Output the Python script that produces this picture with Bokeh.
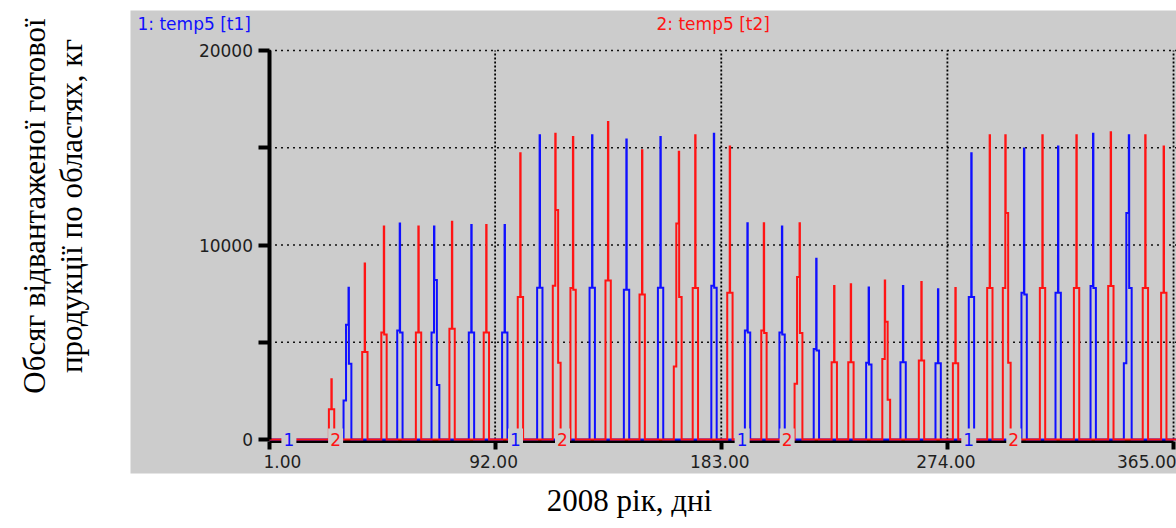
import math
from bokeh.plotting import figure
from bokeh.models import Range1d, FixedTicker, ColumnDataSource
from bokeh.embed import file_html
from bokeh.resources import INLINE
from bokeh.core.properties import value

# ---------------- data ----------------
x_ticks = [1, 92, 183, 274, 365]
x_tick_labels = ["1.00", "92.00", "183.00", "274.00", "365.00"]
y_ticks = [0, 5000, 10000, 15000, 20000]
y_tick_labels = ["0", "", "10000", "", "20000"]

series_names = ["1: temp5 [t1]", "2: temp5 [t2]"]
x_title = "2008 рік, дні"
y_title_lines = ["Обсяг відвантаженої готової", "продукції по областях, кг"]

# day on which each shipment begins, and the daily levels of the shipment (kg)
blue_start_days = [31, 52.6, 66.4, 81.4, 94.8, 108.9, 130, 143.8, 157.5, 179, 192.5,
                   206.4, 220.2, 241.3, 255.1, 269.2, 282.6, 303.8, 317.5, 331.6, 345]
blue_levels = [
    [2000, 5900, 7800, 3900],
    [5600, 11100, 5500],
    [5500, 10950, 8200, 2800],
    [5500, 11030, 5500],
    [5500, 11030, 5500],
    [7800, 15640, 7800],
    [7800, 15640, 7800],
    [7700, 15430, 7700],
    [7800, 15550, 7800],
    [7900, 15720, 7800],
    [5600, 11120, 5500],
    [5500, 10950, 5400],
    [4650, 9290, 4570],
    [3940, 7810, 3860],
    [3970, 7890, 3970],
    [3920, 7720, 3920],
    [7330, 14720, 7330],
    [7540, 14960, 7450],
    [7540, 15060, 7540],
    [7890, 15720, 7790],
    [3920, 11640, 15640, 7790],
]

red_start_days = [25.1, 38.5, 46.2, 60.1, 73.6, 87.4, 101.1, 115.2, 122.3, 136.4, 150.1,
                  163.9, 171.5, 185.4, 199.1, 212.5, 227.4, 234.1, 247.8, 262.5, 276.2,
                  290, 296.3, 311.2, 324.9, 338.7, 352.6, 360]
red_levels = [
    [1550, 3100, 1550],
    [4500, 9050, 4500],
    [5500, 10950, 5400],
    [5500, 10950, 5500],
    [5700, 11200, 5700],
    [5500, 11030, 5500],
    [7330, 14720, 7330],
    [7900, 15720, 11800, 3950],
    [7790, 15550, 7700],
    [8180, 16330, 8180],
    [7450, 14870, 7450],
    [3750, 11100, 14800, 7330],
    [7790, 15640, 7790],
    [7540, 15060, 7540],
    [5600, 11120, 5480],
    [2860, 8350, 11120, 5480],
    [3970, 7890, 3970],
    [3970, 7980, 3970],
    [4140, 8180, 6050, 2050],
    [4060, 8100, 4060],
    [3920, 7790, 3920],
    [7790, 15640, 7790],
    [7790, 15640, 11640, 3950],
    [7790, 15640, 7790],
    [7790, 15640, 7790],
    [7890, 15800, 7890],
    [7790, 15640, 7790],
    [7540, 15060, 7540],
]

# day positions of the series number markers on the time axis
marker1_days = [9, 100.2, 191.4, 282.6]
marker2_days = [27.8, 119.1, 209.5, 300.7]

# ---------------- geometry (page pixels) ----------------
W, H = 1176, 528
PX0, PXD = 268.5, 2.485          # page x of day 1, pixels per day
PY0, PYU = 439.0, 389.0 / 20000  # page y of value 0, pixels per kg


def dx(px):
    return 1 + (px - PX0) / PXD


def vy(py):
    return (PY0 - py) / PYU


X_END = dx(W)

BLUE = "#1010ff"
RED = "#ff1414"
GRAY = "#cccccc"


def step_path(starts, levels, x_end):
    xs, ys = [1], [0]
    for s, lv in zip(starts, levels):
        t = s
        pk = max(lv)
        xs.append(t); ys.append(0)
        for l in lv:
            if l == pk:
                xs += [t, t + 0.15]; ys += [l, l]
                t += 0.15
            else:
                xs += [t, t + 1]; ys += [l, l]
                t += 1
        xs.append(t); ys.append(0)
    xs.append(x_end); ys.append(0)
    return xs, ys


p = figure(width=W, height=H, output_backend="svg", toolbar_location=None,
           x_range=Range1d(dx(0), dx(W)),
           y_range=Range1d(vy(H), vy(0)),
           min_border=0, title=None)
p.outline_line_color = None
p.background_fill_color = "white"
p.border_fill_color = "white"
p.grid.visible = False

# gray chart panel
p.quad(left=[dx(130)], right=[dx(W + 5)], bottom=[vy(473)], top=[vy(10)],
       fill_color=GRAY, line_color=None, level="image")

# grid lines
hg = y_ticks[1:]
p.segment(x0=[1] * len(hg), x1=[X_END] * len(hg), y0=hg, y1=hg,
          line_color="#111111", line_width=1.7, line_dash="2 4", level="underlay")
vg = x_ticks[1:]
p.segment(x0=vg, x1=vg, y0=[0] * len(vg), y1=[y_ticks[-1]] * len(vg),
          line_color="#000000", line_width=1.8, line_dash="2 2", level="underlay")

# y axis
ya = p.yaxis[0]
ya.fixed_location = 1
ya.bounds = (0, 20000)
ya.ticker = FixedTicker(ticks=y_ticks)
ya.major_label_overrides = {t: l for t, l in zip(y_ticks, y_tick_labels)}
ya.axis_line_width = 4
ya.axis_line_color = "black"
ya.major_tick_line_width = 4
ya.major_tick_out = 11
ya.major_tick_in = 0
ya.minor_tick_line_color = None
ya.major_label_standoff = 5
ya.major_label_text_font = "DejaVu Sans"
ya.major_label_text_font_size = "17px"
ya.major_label_text_color = "#1e1e1e"

# x axis
xa = p.xaxis[0]
xa.fixed_location = -2.0 / PYU
xa.bounds = (1, 365)
xa.ticker = FixedTicker(ticks=x_ticks)
xa.major_label_overrides = {t: "" for t in x_ticks}
xa.axis_line_width = 3
xa.axis_line_color = "black"
xa.major_tick_line_width = 4
xa.major_tick_out = 8
xa.major_tick_in = 0
xa.minor_tick_line_color = None
xa.level = "underlay"

# series
bx, by = step_path(blue_start_days, blue_levels, X_END)
rx, ry = step_path(red_start_days, red_levels, X_END)
p.line(bx, by, line_color=BLUE, line_width=2, line_join="miter")
p.line(rx, ry, line_color=RED, line_width=2, line_join="miter")

# series markers on the baseline
p.rect(x=marker1_days + marker2_days, y=[0] * 8, width=15, height=22,
       width_units="screen", height_units="screen", fill_color=GRAY, line_color=None)
p.text(x=marker1_days, y=[0] * 4, text=["1"] * 4, text_color=BLUE,
       text_align="center", text_baseline="middle",
       text_font=value("DejaVu Sans"), text_font_size=value("17px"))
p.text(x=marker2_days, y=[0] * 4, text=["2"] * 4, text_color=RED,
       text_align="center", text_baseline="middle",
       text_font=value("DejaVu Sans"), text_font_size=value("17px"))

# x tick labels
xl = ColumnDataSource(dict(
    x=x_ticks, y=[vy(461)] * len(x_ticks), text=x_tick_labels,
    align=["left"] + ["center"] * (len(x_ticks) - 2) + ["right"],
    xo=[-5.5] + [-1.5] * (len(x_ticks) - 2) + [3],
))
p.text(x="x", y="y", text="text", source=xl, text_align="align", x_offset="xo",
       text_baseline="middle", text_color="#1e1e1e",
       text_font=value("DejaVu Sans"), text_font_size=value("17px"))

# series titles
p.text(x=[dx(137), dx(656)], y=[vy(23), vy(23)], text=series_names,
       text_color=[BLUE, RED], text_align="left", text_baseline="middle",
       text_font=value("DejaVu Sans"), text_font_size=value("17px"))

# axis titles
p.text(x=[dx(33.5), dx(71)], y=[vy(205.5)] * 2, text=y_title_lines,
       angle=math.pi / 2, text_align="center", text_baseline="alphabetic",
       text_color="black", text_font=value("Liberation Serif"),
       text_font_size=value("31px"))
p.text(x=[dx(629)], y=[vy(500)], text=[x_title], text_align="center",
       text_baseline="alphabetic", text_color="black",
       text_font=value("Liberation Serif"), text_font_size=value("31px"))

open("out.html", "w").write(file_html(p, INLINE))
